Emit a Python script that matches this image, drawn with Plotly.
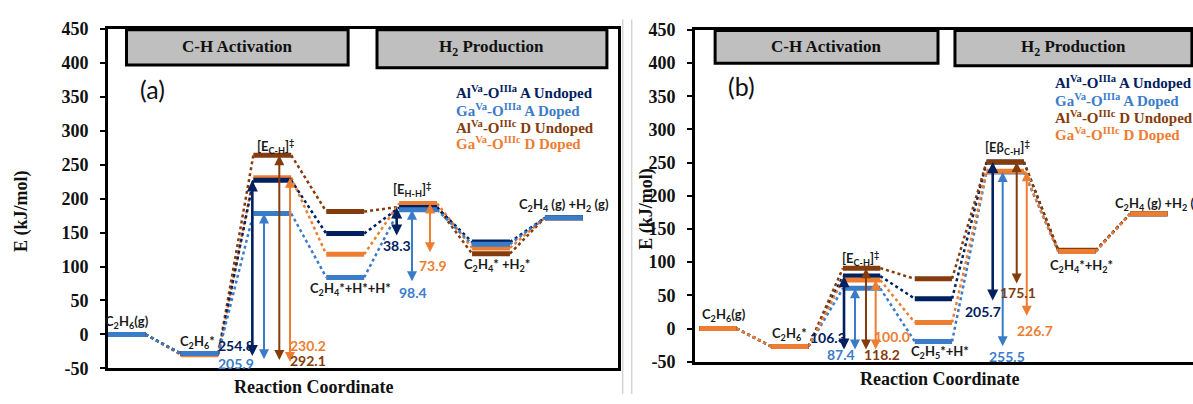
import plotly.graph_objects as go

W, H = 1193, 404

# ---------------- data ----------------
stages_a = ["C2H6(g)", "C2H6*", "[E C-H]", "C2H4*+H*+H*", "[E H-H]", "C2H4*+H2*", "C2H4(g)+H2(g)"]
stages_b = ["C2H6(g)", "C2H6*", "[E C-H]", "C2H5*+H*", "[Eb C-H]", "C2H4*+H2*", "C2H4(g)+H2(g)"]

series_names = ["Al<sup>Va</sup>-O<sup>IIIa</sup> A Undoped",
                "Ga<sup>Va</sup>-O<sup>IIIa</sup> A Doped",
                "Al<sup>Va</sup>-O<sup>IIIc</sup> D Undoped",
                "Ga<sup>Va</sup>-O<sup>IIIc</sup> D Doped"]

a_navy = [0, -28, 227, 148.5, 187, 136, 172]
a_lblue = [0, -28, 178, 84, 183.5, 133, 172]
a_brown = [0, -28, 264, 181, 188, 119, 172]
a_orange = [0, -30, 231, 118, 193, 127.5, 172]

b_navy = [0, -27, 79, 45, 251, 117, 173]
b_lblue = [0, -27, 60.5, -19.5, 236, 116, 173]
b_brown = [0, -27, 91, 75, 251, 118, 173]
b_orange = [0, -27, 73, 9, 237, 116, 173]

# barrier labels (navy, light blue, brown, orange)
a_barrier1 = ["254.8", "205.9", "292.1", "230.2"]
a_barrier2 = ["38.3", "98.4", None, "73.9"]
b_barrier1 = ["106.3", "87.4", "118.2", "100.0"]
b_barrier2 = ["205.7", "255.5", "175.1", "226.7"]

yticks = [-50, 0, 50, 100, 150, 200, 250, 300, 350, 400, 450]
ytick_text = [str(v) for v in yticks]

# ---------------- styles ----------------
NAVY = "#002060"
LBLUE = "#3A7CC8"
BROWN = "#843C0C"
ORANGE = "#ED7D31"
COLORS = [NAVY, LBLUE, BROWN, ORANGE]
HW = 0.26
LABEL_FONT = "Lato, Carlito, Calibri, sans-serif"
SERIF = "Liberation Serif, Times New Roman, Times, serif"

fig = go.Figure()


def add_panel(vals, order, xa, ya):
    xs = list(range(len(vals[0])))
    for k in order:
        v = vals[k]
        cx, cy = [], []
        for i in range(len(v) - 1):
            cx += [xs[i] + HW, xs[i + 1] - HW, None]
            cy += [v[i], v[i + 1], None]
        fig.add_trace(go.Scatter(x=cx, y=cy, mode="lines", xaxis=xa, yaxis=ya,
                                 line=dict(color=COLORS[k], width=2.5, dash="dot"),
                                 showlegend=False, hoverinfo="skip"))
    for k in order:
        v = vals[k]
        lx, ly = [], []
        for i in range(len(v)):
            lx += [xs[i] - HW, xs[i] + HW, None]
            ly += [v[i], v[i], None]
        fig.add_trace(go.Scatter(x=lx, y=ly, mode="lines", xaxis=xa, yaxis=ya,
                                 line=dict(color=COLORS[k], width=5),
                                 name=series_names[k], showlegend=False))


vals_a = [a_navy, a_lblue, a_brown, a_orange]
vals_b = [b_navy, b_lblue, b_brown, b_orange]
add_panel(vals_a, [2, 3, 0, 1], "x", "y")
add_panel(vals_b, [0, 1, 2, 3], "x2", "y2")

ann = []


def arrow(xr, ya_, xpos, top, bottom, color, navy=False):
    w = 2.6 if navy else 2
    s = 0.85 if navy else 1.0
    ann.append(dict(x=xpos, y=top, ax=xpos, ay=bottom, xref=xr, yref=ya_, axref=xr, ayref=ya_,
                    text="", showarrow=True, arrowside="end+start", arrowhead=2, startarrowhead=2,
                    arrowsize=s, startarrowsize=s, arrowwidth=w, arrowcolor=color,
                    standoff=0, startstandoff=0))


def label(xr, ya_, x, y, text, color="#1a1a1a", size=13, xanchor="center", family=LABEL_FONT,
          weight="bold"):
    ann.append(dict(x=x, y=y, xref=xr, yref=ya_, text=text, showarrow=False, xanchor=xanchor,
                    yanchor="middle", font=dict(family=family, size=size, color=color, weight=weight)))


# ---- panel (a) arrows ----
off_a1 = [-0.274, -0.114, 0.096, 0.243]
bot_a1 = [-6, -11, -12, -13]
for k in range(4):
    arrow("x", "y", 2 + off_a1[k], vals_a[k][2], vals_a[k][1] + bot_a1[k], COLORS[k], k == 0)
off_a2 = [-0.294, -0.084, None, 0.163]
bot_a2 = [-5, -8, None, 1]
for k in [0, 1, 3]:
    arrow("x", "y", 4 + off_a2[k], vals_a[k][4], vals_a[k][3] + bot_a2[k], COLORS[k], k == 0)

pos_a1 = [(1.50, -17), (1.50, -42.5), (2.49, -38), (2.49, -17)]
for k in range(4):
    label("x", "y", pos_a1[k][0], pos_a1[k][1], a_barrier1[k], COLORS[k], 14)
pos_a2 = [(3.71, 131), (3.93, 62), None, (4.20, 102)]
for k in [0, 1, 3]:
    label("x", "y", pos_a2[k][0], pos_a2[k][1], a_barrier2[k], COLORS[k], 14)

# ---- panel (b) arrows ----
off_b1 = [-0.245, -0.092, 0.061, 0.196]
for k in range(4):
    arrow("x2", "y2", 2 + off_b1[k], vals_b[k][2], vals_b[k][1] - 7, COLORS[k], k == 0)
off_b2 = [-0.174, -0.035, 0.16, 0.30]
bot_b2 = [-5, -9.5, -9.5, 8]
for k in range(4):
    arrow("x2", "y2", 4 + off_b2[k], vals_b[k][4], vals_b[k][3] + bot_b2[k], COLORS[k], k == 0)

pos_b1 = [(1.53, -13), (1.71, -39), (2.28, -39), (2.42, -12)]
for k in range(4):
    label("x2", "y2", pos_b1[k][0], pos_b1[k][1], b_barrier1[k], COLORS[k], 14)
pos_b2 = [(3.69, 25), (4.025, -42), (4.18, 54), (4.415, -3)]
for k in range(4):
    label("x2", "y2", pos_b2[k][0], pos_b2[k][1], b_barrier2[k], COLORS[k], 14)

# ---- state labels ----
label("x", "y", 0.0, 18, "C<sub>2</sub>H<sub>6</sub>(g)")
label("x", "y", 0.98, -11, "C<sub>2</sub>H<sub>6</sub>*")
label("x", "y", 2.04, 277, "[E<sub>C-H</sub>]<sup>‡</sup>")
label("x", "y", 3.07, 67, "C<sub>2</sub>H<sub>4</sub>*+H*+H*")
label("x", "y", 3.92, 214, "[E<sub>H-H</sub>]<sup>‡</sup>")
label("x", "y", 5.08, 102, "C<sub>2</sub>H<sub>4</sub>* +H<sub>2</sub>*")
label("x", "y", 6.0, 191, "C<sub>2</sub>H<sub>4</sub> (g) +H<sub>2</sub> (g)")

label("x2", "y2", 0.08, 20, "C<sub>2</sub>H<sub>6</sub>(g)")
label("x2", "y2", 1.0, -9, "C<sub>2</sub>H<sub>6</sub>*")
label("x2", "y2", 1.99, 106, "[E<sub>C-H</sub>]<sup>‡</sup>")
label("x2", "y2", 3.09, -36, "C<sub>2</sub>H<sub>5</sub>*+H*")
label("x2", "y2", 4.025, 273, "[Eβ<sub>C-H</sub>]<sup>‡</sup>")
label("x2", "y2", 5.06, 94, "C<sub>2</sub>H<sub>4</sub>*+H<sub>2</sub>*")
label("x2", "y2", 5.50, 187, "C<sub>2</sub>H<sub>4</sub> (g) +H<sub>2</sub> (g)", xanchor="left")

label("x", "y", 0.35, 362, "(a)", "#111111", 25, weight="normal")
label("x2", "y2", 0.33, 366, "(b)", "#111111", 25, weight="normal")

leg_a_y = [357, 331, 306, 282]
leg_b_y = [371, 345, 319, 293]
for k in range(4):
    label("x", "y", 4.49, leg_a_y[k], series_names[k], COLORS[k], 15, xanchor="left", family=SERIF)
    label("x2", "y2", 4.66, leg_b_y[k], series_names[k], COLORS[k], 15, xanchor="left", family=SERIF)

shapes = []
boxes = [("x", "y", 0.0, 3.04, 397, "C-H Activation"),
         ("x", "y", 3.436, 6.59, 393, "H<sub>2</sub> Production"),
         ("x2", "y2", -0.04, 3.064, 400, "C-H Activation"),
         ("x2", "y2", 3.30, 6.60, 396, "H<sub>2</sub> Production")]
for xr, yr, x0, x1, ybot, txt in boxes:
    shapes.append(dict(type="rect", xref=xr, yref=yr, x0=x0, x1=x1, y0=ybot, y1=449,
                       fillcolor="#BFBFBF", line=dict(color="black", width=3), layer="below"))
    ann.append(dict(x=(x0 + x1) / 2, y=(ybot + 449) / 2 + 1, xref=xr, yref=yr, text=txt, showarrow=False,
                    font=dict(family=SERIF, size=17, color="#111111", weight="bold")))

for px in [622.7, 631.7]:
    shapes.append(dict(type="line", xref="paper", yref="paper", x0=px / W, x1=px / W, y0=0,
                       y1=(H - 10) / H, line=dict(color="#D4D4D4", width=1.5)))

for (px, py, txt, ang) in [(21.5, 212, "E (kJ/mol)", -90), (647, 209, "E (kJ/mol)", -90),
                          (313, 396.5, "Reaction Coordinate", 0), (939, 388, "Reaction Coordinate", 0)]:
    ann.append(dict(x=px / W, y=(H - py) / H, xref="paper", yref="paper", text=txt, showarrow=False,
                    textangle=ang, xanchor="center", yanchor="middle",
                    font=dict(family=SERIF, size=18, color="#111111", weight="bold")))

yax = dict(range=[-50, 450], tickvals=yticks, ticktext=ytick_text, ticks="outside", ticklen=5, tickwidth=2,
           tickcolor="black", showline=True, linecolor="black", linewidth=3, showgrid=False, zeroline=False,
           tickfont=dict(family=SERIF, size=18, color="#111111", weight="bold"), ticklabelstandoff=8)
xax = dict(showline=True, linecolor="black", linewidth=3, showgrid=False, zeroline=False,
           showticklabels=False, ticks="")

fig.update_layout(
    width=W, height=H, margin=dict(l=0, r=0, t=0, b=0),
    paper_bgcolor="white", plot_bgcolor="white",
    xaxis=dict(xax, domain=[108 / W, 618 / W], range=[-0.254, 6.742], anchor="y", mirror=True),
    yaxis=dict(yax, domain=[27 / H, 384 / H], anchor="x", mirror=True),
    xaxis2=dict(xax, domain=[695 / W, 1.0], range=[-0.32, 6.615], anchor="y2", mirror=True),
    yaxis2=dict(yax, domain=[34 / H, 383 / H], anchor="x2", mirror=False),
    annotations=ann, shapes=shapes, showlegend=False,
)

fig.write_html("out.html")
